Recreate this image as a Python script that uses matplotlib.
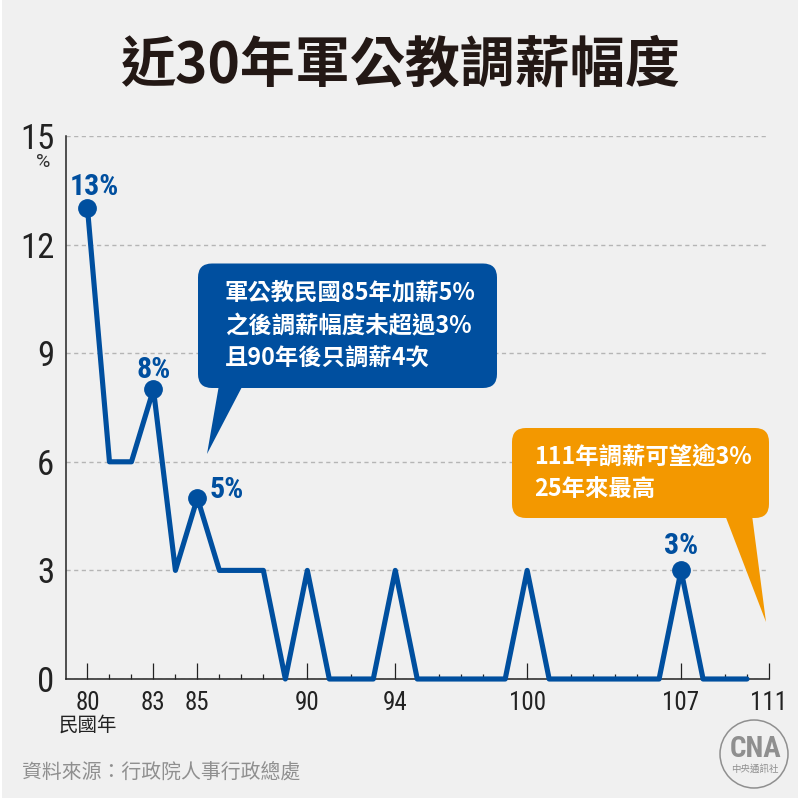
# -*- coding: utf-8 -*-
import matplotlib
matplotlib.use("Agg")
import matplotlib.pyplot as plt
from matplotlib import font_manager
from matplotlib.patches import FancyBboxPatch, Polygon, Circle, Rectangle

years = [80, 81, 82, 83, 84, 85, 86, 87, 88, 89, 90, 91, 92, 93, 94, 95, 96, 97, 98, 99,
         100, 101, 102, 103, 104, 105, 106, 107, 108, 109, 110]
raises = [13, 6, 6, 8, 3, 5, 3, 3, 3, 0, 3, 0, 0, 0, 3, 0, 0, 0, 0, 0,
          3, 0, 0, 0, 0, 0, 0, 3, 0, 0, 0]
highlight_years = [80, 83, 85, 107]
highlight_vals = [13, 8, 5, 3]
highlight_labels = ["13%", "8%", "5%", "3%"]
major_years = [80, 83, 85, 90, 94, 100, 107, 111]
minor_years = [81, 82, 84, 86, 87, 88, 89, 91, 92, 93, 95, 96, 97, 98, 99,
               101, 102, 103, 104, 105, 106, 108, 109, 110]
y_ticks = [0, 3, 6, 9, 12, 15]

BLUE = "#004f9f"
ORANGE = "#f39800"
BG = "#f0f0f0"
GREY = "#8f8f8f"

names = {f.name for f in font_manager.fontManager.ttflist}
narrow = "Roboto"
for cand in ["Roboto Condensed", "Sofia Sans Condensed", "Saira SemiCondensed"]:
    if cand in names:
        narrow = cand
        break
cjk = "Noto Sans CJK TC"
plt.rcParams["font.family"] = [cjk, "DejaVu Sans"]

fig = plt.figure(figsize=(8, 8), dpi=100, facecolor="white")

# overlay in pixels for background, callouts and logo
bg = fig.add_axes([0, 0, 1, 1], zorder=0)
bg.set_xlim(0, 800)
bg.set_ylim(800, 0)
bg.axis("off")
bg.add_patch(Rectangle((2, 0), 796, 798, fc=BG, ec="none"))

ax = fig.add_axes([65.5 / 800, 1 - 679 / 800, (769 - 65.5) / 800, (679 - 136) / 800], zorder=1)
ax.patch.set_alpha(0)
ax.set_xlim(79, 111)
ax.set_ylim(0, 15)
for s in ["top", "right"]:
    ax.spines[s].set_visible(False)
for s in ["left", "bottom"]:
    ax.spines[s].set_linewidth(1.1)
    ax.spines[s].set_color("#222222")

ax.yaxis.grid(True, color="#b5b5b5", linestyle=(0, (3, 2.5)), linewidth=1)
ax.set_axisbelow(True)
ax.set_yticks(y_ticks)
ax.set_yticklabels([str(v) for v in y_ticks], fontname=narrow, fontsize=25, color="#222222")
ax.tick_params(axis="y", length=0, pad=8)

ax.set_xticks(major_years)
ax.set_xticklabels([str(v) for v in major_years], fontname=narrow, fontsize=18, color="#222222")
ax.set_xticks(minor_years, minor=True)
ax.tick_params(axis="x", which="major", direction="in", length=11.5, width=0.9, color="#222222", pad=9)
ax.tick_params(axis="x", which="minor", direction="in", length=3.6, width=0.9, color="#222222")

ax.plot(years, raises, color=BLUE, linewidth=3.7, solid_joinstyle="round", solid_capstyle="round",
        clip_on=False, zorder=3)
ax.plot(highlight_years, highlight_vals, "o", color=BLUE, markersize=12.5, clip_on=False, zorder=4)

label_offsets = [(5, 9.5), (0, 8), (21, 0), (0, 12)]
for yr, val, lab, off in zip(highlight_years, highlight_vals, highlight_labels, label_offsets):
    ax.annotate(lab, (yr, val), xytext=off, textcoords="offset points", ha="center", va="baseline",
                fontname=narrow, fontweight="bold", fontsize=21.5, color=BLUE, zorder=5)

# callouts, logo and free text sit on top
top = fig.add_axes([0, 0, 1, 1], zorder=2)
top.set_xlim(0, 800)
top.set_ylim(800, 0)
top.axis("off")

top.add_patch(FancyBboxPatch((212, 277.5), 271, 96.5, boxstyle="round,pad=14,rounding_size=14", fc=BLUE, ec="none"))
top.add_patch(Polygon([(219, 385), (243, 385), (207, 454)], fc=BLUE, ec="none"))
for y, line in zip([293, 326, 359], ["軍公教民國85年加薪5%", "之後調薪幅度未超過3%", "且90年後只調薪4次"]):
    top.text(225, y, line, color="white", fontsize=16.8, fontweight="bold", ha="left", va="center")

top.add_patch(FancyBboxPatch((526, 442), 229, 62, boxstyle="round,pad=14,rounding_size=14", fc=ORANGE, ec="none"))
top.add_patch(Polygon([(725, 515), (752, 515), (766, 622)], fc=ORANGE, ec="none"))
for y, line in zip([457, 490], ["111年調薪可望逾3%", "25年來最高"]):
    top.text(534, y, line, color="white", fontsize=16.8, fontweight="bold", ha="left", va="center")

top.text(400, 66, "近30年軍公教調薪幅度", fontsize=39.6, fontweight="bold", color="#231815", ha="center", va="center")
top.text(43, 162, "%", fontname="Roboto", fontsize=14, color="#333333", ha="center", va="center")
top.text(88, 725, "民國年", fontsize=14, color="#222222", ha="center", va="center")
top.text(22, 772, "資料來源：行政院人事行政總處", fontsize=14.3, color=GREY, ha="left", va="center")

top.add_patch(Circle((754, 754), 34, fc="none", ec=GREY, lw=1.1))
top.text(756, 749, "CNA", fontname=narrow, fontweight="bold", fontsize=21, color=GREY, ha="center", va="center")
top.text(755, 769, "中央通訊社", fontsize=6.8, color=GREY, ha="center", va="center")

fig.savefig("out.png", dpi=100, facecolor=fig.get_facecolor())
